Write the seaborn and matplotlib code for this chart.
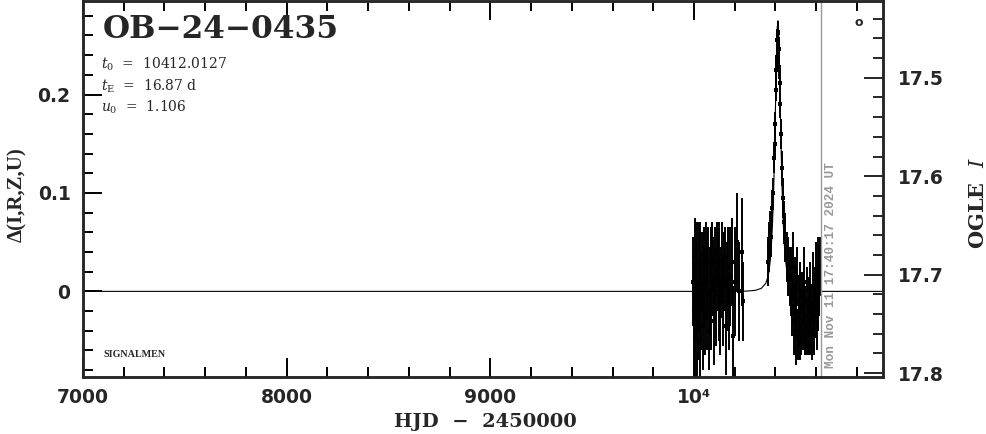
import numpy as np
import pandas as pd
import matplotlib
matplotlib.use("Agg")
import matplotlib.pyplot as plt
from matplotlib.ticker import MultipleLocator, FixedLocator
import seaborn as sns

# --- data ---
# baseline season
t_base = [9996, 10000, 10003, 10006, 10010, 10013, 10017, 10021, 10025, 10028, 10032, 10036,
          10040, 10044, 10047, 10051, 10055, 10059, 10063, 10066, 10070, 10074, 10078, 10082,
          10085, 10089, 10093, 10097, 10101, 10105, 10109, 10113, 10117, 10121, 10125, 10129,
          10133, 10137, 10141, 10146, 10150, 10155, 10160, 10166, 10172, 10178, 10185, 10192,
          10200, 10210, 10222, 10236, 10242]
d_base = [0.010, -0.020, 0.035, -0.045, 0.000, -0.060, 0.025, -0.030, 0.015, -0.050, 0.030, -0.010,
          0.020, -0.035, 0.005, 0.030, -0.025, 0.035, -0.015, 0.010, 0.030, -0.040, 0.000, 0.025,
          -0.020, 0.035, 0.015, -0.030, 0.030, 0.005, -0.015, 0.040, 0.020, -0.005, 0.030, -0.025,
          0.010, 0.030, -0.010, 0.020, 0.035, -0.035, 0.005, 0.025, -0.020, 0.015, 0.030, -0.045,
          0.010, 0.050, 0.000, 0.040, -0.010]
e_base = [0.045, 0.050, 0.040, 0.045, 0.050, 0.040, 0.045, 0.040, 0.055, 0.045, 0.040, 0.050,
          0.040, 0.045, 0.040, 0.035, 0.040, 0.035, 0.045, 0.040, 0.035, 0.040, 0.045, 0.040,
          0.040, 0.035, 0.040, 0.045, 0.035, 0.040, 0.040, 0.030, 0.040, 0.045, 0.040, 0.040,
          0.035, 0.040, 0.045, 0.040, 0.030, 0.050, 0.045, 0.040, 0.040, 0.050, 0.045, 0.050,
          0.055, 0.050, 0.050, 0.055, 0.040]

# the event
t_peak = [10362, 10368, 10374, 10380, 10385, 10390, 10394, 10397, 10400, 10403, 10405, 10407,
          10409, 10411, 10413, 10415, 10417, 10419, 10421, 10424, 10427, 10431, 10436, 10442,
          10448, 10455, 10462, 10470]
d_peak = [0.030, 0.045, 0.060, 0.055, 0.085, 0.100, 0.135, 0.150, 0.170, 0.205, 0.225, 0.238,
          0.255, 0.262, 0.263, 0.255, 0.246, 0.228, 0.212, 0.190, 0.160, 0.125, 0.095, 0.070,
          0.055, 0.035, 0.025, 0.015]
e_peak = [0.025, 0.025, 0.022, 0.020, 0.018, 0.015, 0.015, 0.014, 0.012, 0.012, 0.012, 0.012,
          0.012, 0.012, 0.012, 0.012, 0.012, 0.012, 0.014, 0.014, 0.015, 0.018, 0.020, 0.022,
          0.025, 0.025, 0.030, 0.030]

# after the event
t_post = [10478, 10483, 10487, 10491, 10495, 10499, 10503, 10507, 10511, 10515, 10519, 10523,
          10527, 10531, 10535, 10539, 10543, 10547, 10551, 10555, 10559, 10563, 10567, 10571,
          10575, 10579, 10583, 10587, 10591, 10595, 10599, 10603, 10607, 10611, 10615, 10619]
d_post = [0.010, -0.015, 0.025, -0.030, 0.005, -0.040, -0.010, 0.015, -0.045, -0.020, 0.000, -0.035,
          -0.050, -0.015, -0.030, 0.010, -0.045, -0.025, -0.055, -0.010, -0.035, -0.020, -0.050, -0.005,
          -0.030, -0.040, 0.005, -0.025, -0.045, -0.010, 0.015, -0.030, 0.020, -0.005, 0.010, 0.025]
e_post = [0.035, 0.030, 0.035, 0.035, 0.030, 0.035, 0.035, 0.030, 0.025, 0.035, 0.030, 0.035,
          0.015, 0.035, 0.030, 0.035, 0.020, 0.030, 0.010, 0.035, 0.030, 0.035, 0.015, 0.035,
          0.035, 0.030, 0.035, 0.035, 0.020, 0.035, 0.035, 0.030, 0.035, 0.035, 0.035, 0.030]

# model curve (PSPL)
t_model = [7000, 10200, 10260, 10300, 10330, 10352, 10362, 10368, 10374, 10380, 10385, 10390,
           10394, 10397, 10400, 10403, 10406, 10409, 10412, 10415, 10418, 10421, 10424, 10427,
           10431, 10436, 10442, 10448, 10456, 10462, 10472, 10492, 10520, 10560, 10650, 10928]
d_model = [0.0, 0.0, 0.0003, 0.001, 0.003, 0.008, 0.014, 0.020, 0.030, 0.046, 0.066, 0.094,
           0.125, 0.153, 0.185, 0.217, 0.247, 0.268, 0.275, 0.268, 0.247, 0.217, 0.185, 0.153,
           0.117, 0.082, 0.053, 0.035, 0.020, 0.014, 0.008, 0.003, 0.001, 0.0, 0.0, 0.0]

event = "OB\u221224\u22120435"
params = [r"$t_0$  =  10412.0127", r"$t_{\rm E}$  =  16.87 d", r"$u_0$  =  1.106"]
now_line = 10626
stamp = "Mon Nov 11 17:40:17 2024 UT"

obs = pd.DataFrame({
    "t": t_base + t_peak + t_post,
    "d": d_base + d_peak + d_post,
    "e": e_base + e_peak + e_post,
})
model = pd.DataFrame({"t": t_model, "d": d_model})

sns.set_style("ticks")
plt.rcParams["font.family"] = ["DejaVu Sans"]
plt.rcParams["mathtext.fontset"] = "dejavuserif"

fig = plt.figure(figsize=(9.86, 4.34), dpi=100)
ax = fig.add_axes([0.0842, 0.1313, 0.8113, 0.8664])

sns.lineplot(data=model, x="t", y="d", ax=ax, color="black", lw=0.8, sort=False)
ax.errorbar(obs["t"], obs["d"], yerr=obs["e"], fmt="none", ecolor="black", elinewidth=1.4)
sns.scatterplot(data=obs, x="t", y="d", ax=ax, color="black", s=6, marker="s", linewidth=0)
ax.axvline(now_line, color="#999999", lw=1)

ax.set_xlim(7000, 10928)
ax.set_ylim(-0.087, 0.295)

ax.xaxis.set_major_locator(FixedLocator([7000, 8000, 9000, 10000]))
ax.set_xticklabels(["7000", "8000", "9000", "10\u2074"])
ax.xaxis.set_minor_locator(MultipleLocator(200))
ax.yaxis.set_major_locator(FixedLocator([0, 0.1, 0.2]))
ax.set_yticklabels(["0", "0.1", "0.2"])
ax.yaxis.set_minor_locator(MultipleLocator(0.02))

for sp in ax.spines.values():
    sp.set_linewidth(1.8)
    sp.set_visible(True)

ax.tick_params(which="both", direction="in", top=True, bottom=True, left=True, right=False,
               width=1.4, color="black")
ax.tick_params(which="major", length=14)
ax.tick_params(which="minor", length=7)
ax.tick_params(axis="x", pad=8, labelsize=13.5)
ax.tick_params(axis="y", pad=9, labelsize=13.5)
for lab in ax.get_xticklabels() + ax.get_yticklabels():
    lab.set_fontweight("bold")

ax.set_xlabel("HJD  \u2212  2450000", fontsize=14, fontweight="bold", family="DejaVu Serif")
ax.xaxis.set_label_coords(0.5025, -0.095)
ax.set_ylabel("\u0394(I,R,Z,U)", fontsize=15, fontweight="bold", family="Liberation Serif")
ax.yaxis.set_label_coords(-0.07, 0.484)

# right magnitude axis
ax2 = ax.twinx()
ax2.set_ylim(17.804, 17.422)
ax2.yaxis.set_major_locator(FixedLocator([17.5, 17.6, 17.7, 17.8]))
ax2.set_yticklabels(["17.5", "17.6", "17.7", "17.8"])
ax2.yaxis.set_minor_locator(MultipleLocator(0.02))
ax2.tick_params(which="both", direction="in", right=True, left=False, width=1.4)
ax2.tick_params(which="major", length=14, pad=11, labelsize=13.5)
ax2.tick_params(which="minor", length=7)
for lab in ax2.get_yticklabels():
    lab.set_fontweight("bold")
ax2.set_ylabel(r"OGLE  $\mathit{I}$", fontsize=15, fontweight="bold", family="DejaVu Serif")
ax2.yaxis.set_label_coords(1.106, 0.463)
for sp in ax2.spines.values():
    sp.set_linewidth(1.8)

# annotations
ax.text(0.025, 0.923, event, transform=ax.transAxes, fontsize=22.5, fontweight="bold",
        family="DejaVu Serif", va="center", ha="left")
for i, p in enumerate(params):
    ax.text(0.023, 0.832 - i * 0.058, p, transform=ax.transAxes, fontsize=10,
            family="DejaVu Serif", va="center", ha="left")
ax.text(0.026, 0.059, "SIGNALMEN", transform=ax.transAxes, fontsize=7.3, fontweight="bold",
        family="Liberation Serif", va="center", ha="left")
ax.text(0.935, 0.024, stamp, transform=ax.transAxes, rotation=90, fontsize=9.2,
        fontweight="bold", family="Liberation Mono", color="#999999", va="bottom", ha="center")
ax.text(0.97, 0.944, "o", transform=ax.transAxes, fontsize=9, fontweight="bold",
        va="center", ha="center")

fig.savefig("out.png", dpi=100)
